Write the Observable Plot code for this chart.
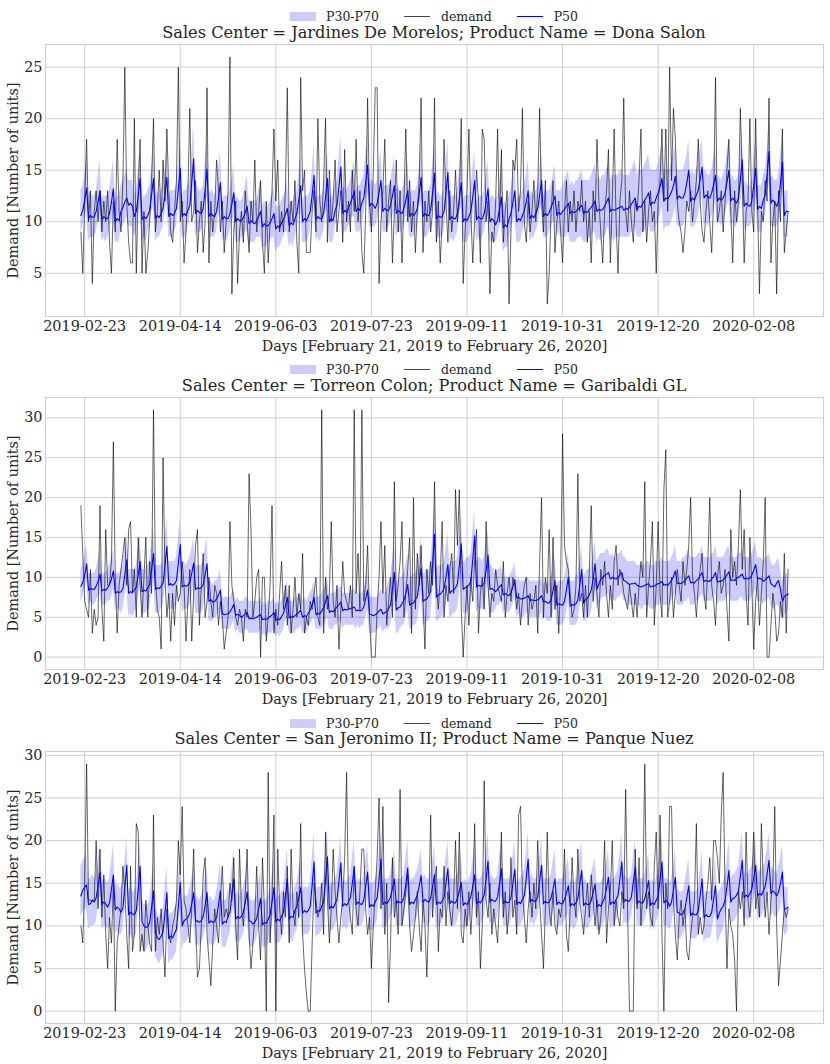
<!DOCTYPE html>
<html><head><meta charset="utf-8">
<script src="https://cdn.jsdelivr.net/npm/d3@7"></script>
<script src="https://cdn.jsdelivr.net/npm/@observablehq/plot@0.6"></script>
<style>
body{margin:0;background:#fff;width:830px;font-family:"DejaVu Serif",serif;color:#262626}
.panel{position:relative;width:830px;height:353.333px}
.legend{position:absolute;left:45px;right:7px;top:9px;height:15px;display:flex;justify-content:center;align-items:center;font-size:12.5px;line-height:15px}
.item{display:flex;align-items:center}
.item+.item{margin-left:25px}
.swatch{width:26px;height:9px;background:rgba(0,0,255,0.2);margin-right:10px}
.ln{width:26px;height:1.2px;margin-right:11px}
.title{position:absolute;left:45px;right:7px;top:23.7px;text-align:center;font-size:16.2px;line-height:18px;white-space:nowrap}
.chart{position:absolute;left:0;top:40px}
</style></head><body><div id="root"></div>
<script>
const tickLabels = ["2019-02-23","2019-04-14","2019-06-03","2019-07-23","2019-09-11","2019-10-31","2019-12-20","2020-02-08"];
const yTicks1 = [5,10,15,20,25];
const yTicks2 = [0,5,10,15,20,25,30];
const yTicks3 = [0,5,10,15,20,25,30];
const titles = ["Sales Center = Jardines De Morelos; Product Name = Dona Salon","Sales Center = Torreon Colon; Product Name = Garibaldi GL","Sales Center = San Jeronimo II; Product Name = Panque Nuez"];

const demand1 = [
9,5,12,18,10,13,4,
11,13,10,13,9,12,10,
13,8,5,12,9,18,11,
9,14,25,12,8,6,6,
20,5,13,18,5,11,5,
7,10,14,20,9,11,15,
10,16,12,19,13,9,8,
11,14,25,10,12,6,9,
13,21,10,11,14,7,10,
12,7,10,23,6,12,9,
11,16,13,9,12,7,10,
13,26,3,9,12,4,9,
11,8,13,10,7,12,10,
16,9,11,14,8,5,12,
6,10,13,19,12,16,9,
11,9,13,23,9,12,10,
14,8,5,24,13,15,7,
7,7,11,13,9,20,12,
10,14,20,8,15,10,12,
16,9,11,13,8,17,10,
12,9,15,11,18,10,13,
7,5,11,22,12,9,15,
23,23,4,10,13,18,9,
12,14,6,11,16,9,13,
6,12,19,10,14,9,12,
7,11,14,22,7,12,10,
13,9,11,22,8,12,6,
10,18,12,8,13,9,11,
15,10,12,20,4,9,13,
19,11,6,10,15,12,6,
19,18,10,12,3,9,8,
12,19,10,17,8,11,13,
2,9,16,15,18,11,13,
21,10,8,12,9,11,14,
10,13,21,12,9,14,2,
5,11,14,7,10,12,9,
6,11,14,9,12,10,13,
9,12,11,14,10,12,8,
11,6,13,10,18,12,9,
6,11,13,17,6,12,19,
10,5,12,14,22,11,9,
13,10,8,12,11,14,19,
9,12,8,11,13,10,11,
5,12,14,19,12,19,11,
25,14,21,18,12,10,9,
7,9,12,11,13,10,12,
14,18,12,9,8,11,13,
10,7,12,24,10,11,13,
9,12,15,18,11,6,13,
10,12,21,14,6,11,12,
20,11,9,20,12,3,11,
10,14,12,22,6,10,12,
3,13,10,19,7,9,11];

const p50_1 = [
10.6,11.1,12.1,13.3,10.3,10.6,10.4,
10.5,11,11.9,13,10.2,10.5,10.3,
10.3,10.8,11.9,13.2,10,10.3,10.1,
11,11.4,11.9,12.3,11.6,11.8,11.5,
10.5,11,12.5,14.2,10.2,10.5,10.3,
10.6,11.1,12.6,14.2,10.3,10.6,10.4,
10.8,11.3,12.7,14.3,10.5,10.8,10.6,
10.8,11.3,13.2,15.2,10.5,10.8,10.6,
11.1,11.6,13.8,16.1,10.8,11.1,10.9,
10.8,11.3,13.1,15.1,10.5,10.8,10.6,
10.5,11,12.3,13.8,10.2,10.5,10.3,
10.3,10.8,11.7,12.8,10,10.3,10.1,
10.1,10.4,10.9,11.5,9.8,10.1,9.9,
9.8,10.1,10.5,11,9.5,9.8,9.6,
9.6,9.9,10.3,10.8,9.3,9.6,9.4,
9.9,10.2,10.7,11.3,9.6,9.9,9.7,
10.3,10.8,12.1,13.5,10,10.3,10.1,
10.5,11,12.6,14.5,10.2,10.5,10.3,
10.3,10.8,12.4,14.2,10,10.3,10.1,
11.1,11.6,13.4,15.3,10.8,11.1,10.9,
11.3,11.8,12.3,13,11,11.3,11.1,
11.8,12.3,13.8,15.5,11.5,11.8,11.6,
11.3,11.8,12.8,14,11,11.3,11.1,
11.1,11.6,12.5,13.5,10.8,11.1,10.9,
10.8,11.3,12.1,13,10.5,10.8,10.6,
10.8,11.3,12.7,14.3,10.5,10.8,10.6,
10.6,11.1,12.8,14.7,10.3,10.6,10.4,
10.5,11,12.8,14.8,10.2,10.5,10.3,
10.3,10.8,12.2,13.8,10,10.3,10.1,
10.5,11,12.4,14,10.2,10.5,10.3,
10.3,10.8,11.9,13.2,10,10.3,10.1,
9.7,10.2,11.2,12.4,9.4,9.7,9.5,
10.3,10.8,11.8,13,10,10.3,10.1,
10.6,11.1,11.9,13,10.3,10.6,10.4,
10.8,11.3,12.6,14,10.5,10.8,10.6,
10.9,11.4,11.9,12.5,10.6,10.9,10.7,
11,11.2,11.5,11.8,10.8,11,10.9,
11,11.2,11.4,11.6,10.8,11,10.9,
11.2,11.4,11.7,12,11,11.2,11.1,
11.2,11.5,11.9,12.3,11,11.2,11.1,
11.2,11.3,11.4,11.5,11.1,11.3,11.2,
11.4,11.7,12,12.3,11.2,11.5,11.4,
11.8,12.1,12.4,12.8,11.6,11.9,11.8,
12.3,12.8,13.4,14.2,12,12.3,12.2,
12.5,12.9,13.5,14.4,12.2,12.5,12.3,
12.3,12.8,13.8,15,12,12.3,12.1,
12.6,13.1,14.1,15.3,12.3,12.6,12.4,
12.3,12.8,13.6,14.5,12,12.3,12.1,
12.3,12.8,13.8,15,12,12.3,12.1,
11.8,12.3,14,16,11.5,11.8,11.6,
11.5,12,13.5,15.2,11.2,11.5,11.3,
12.1,12.6,14.6,16.8,11.8,12.1,11.9,
11.5,12,13.8,15.8,10.6,11,11];

const p70_1 = [
13,13.5,14.5,16.5,12.5,13,12.5,
12.5,13,14.5,16,12,12.5,12.5,
12.5,13,14.5,16,12,12.5,12.5,
13.5,14,14.5,15,14,14,14,
12.5,13,15,17,12,12.5,12.5,
13,13.5,15,17,12.5,13,12.5,
13,13.5,15,17.5,12.5,13,13,
13,13.5,15.5,18,12.5,13,13,
13.5,14,16.5,19.5,13,13.5,13,
13,13.5,15.5,18,12.5,13,13,
12.5,13,15,17,12,12.5,12.5,
12.5,13,14,15.5,12,12.5,12,
12,12.5,13.5,14.5,12,12,12,
12,12,13,14,11.5,12,11.5,
11.5,12,12.5,13.5,11.5,11.5,11.5,
12,12.5,13,14,11.5,12,12,
12.5,13,14.5,16.5,12,12.5,12.5,
12.5,13,15,17.5,12,12.5,12.5,
12.5,13,15,17,12,12.5,12.5,
13.5,14,16,18.5,13,13.5,13,
13.5,14,15,16,13,13.5,13.5,
14,14.5,16.5,18.5,13.5,14,14,
13.5,14,15.5,17,13,13.5,13.5,
13.5,14,15,16.5,13,13.5,13,
13,13.5,14.5,16,12.5,13,13,
13,13.5,15,17.5,12.5,13,13,
13,13.5,15.5,17.5,12.5,13,12.5,
12.5,13,15.5,18,12,12.5,12.5,
12.5,13,15,17,12,12.5,12.5,
12.5,13,15,17,12,12.5,12.5,
12.5,13,14.5,16,12,12.5,12.5,
12,12.5,13.5,15.5,11.5,12,11.5,
12.5,13,14.5,16,12,12.5,12.5,
13,13.5,14.5,16,12.5,13,12.5,
13,13.5,15,17,12.5,13,13,
13,13.5,14.5,15.5,13,13,13,
13.5,14,14.5,15,13.5,14,13.5,
14,14,14.5,15,14,14,14,
14,14.5,15,15.5,14,14.5,14,
14.5,14.5,15,15.5,14,14.5,14.5,
14.5,14.5,15,15,14.5,14.5,14.5,
14.5,15,15.5,16,14.5,15,15,
15,15.5,16,16.5,15,15,15,
15,15.5,16.5,17.5,15,15,15,
15,15.5,16.5,17.5,15,15,15,
15,15.5,16.5,18,14.5,15,14.5,
15,15.5,17,18,14.5,15,14.5,
14.5,15,16,17.5,14,14.5,14,
14.5,15,16.5,18,14,14.5,14,
14,14.5,16.5,19,13.5,14,13.5,
13.5,14,16,18,13.5,13.5,13.5,
14.5,15,17,19.5,14,14.5,14,
14,14.5,16.5,18.5,13,13,13];

const p30_1 = [
9,9.5,10.5,11,8,8.5,8.5,
8.5,9,10,10.5,8,8.5,8,
8.5,9,10,10.5,8,8,8,
9.5,9.5,10,10.5,9.5,9.5,9.5,
8.5,9,10.5,11.5,8,8.5,8,
9,9.5,11,11.5,8,8.5,8.5,
9,9.5,11,12,8.5,8.5,8.5,
9,9.5,11.5,12.5,8.5,8.5,8.5,
9.5,10,12,13.5,8.5,9,9,
9,9.5,11.5,12.5,8.5,8.5,8.5,
8.5,9,10.5,11.5,8,8.5,8,
8.5,9,10,10.5,8,8,8,
8.5,8.5,9,9,7.5,8,8,
8,8.5,8.5,8.5,7.5,7.5,7.5,
8,8,8.5,8.5,7,7.5,7.5,
8,8.5,9,9,7.5,8,7.5,
8.5,9,10.5,11,8,8,8,
8.5,9,11,12,8,8.5,8,
8.5,9,10.5,11.5,8,8,8,
9.5,10,11.5,13,8.5,9,9,
9.5,10,10.5,10.5,9,9,9,
10,10.5,12,13,9.5,9.5,9.5,
9.5,10,11,11.5,9,9,9,
9.5,10,10.5,11,8.5,9,9,
9,9.5,10.5,10.5,8.5,8.5,8.5,
9,9.5,11,12,8.5,8.5,8.5,
9,9.5,11,12,8,8.5,8.5,
8.5,9,11,12.5,8,8.5,8,
8.5,9,10.5,11.5,8,8,8,
8.5,9,10.5,11.5,8,8.5,8,
8.5,9,10,10.5,8,8,8,
8,8.5,9.5,10,7,7.5,7.5,
8.5,9,10,10.5,8,8,8,
9,9.5,10,10.5,8,8.5,8.5,
9,9.5,11,11.5,8.5,8.5,8.5,
9,9.5,10,10,8.5,9,8.5,
8.5,8.5,8.5,9,8,8,8,
8,8.5,8.5,8.5,8,8,8,
8.5,8.5,9,9,8,8.5,8,
8.5,8.5,9,9.5,8,8.5,8,
8.5,8.5,8.5,8.5,8.5,8.5,8.5,
8.5,9,9,9.5,8.5,8.5,8.5,
9,9,9.5,10,9,9,9,
9.5,10,10.5,11.5,9,9.5,9.5,
9.5,10,10.5,11.5,9.5,9.5,9.5,
9.5,10,11,12,9.5,9.5,9.5,
10,10.5,11.5,12.5,9.5,10,9.5,
10,10.5,11,12,9.5,10,9.5,
10,10.5,11.5,12,9.5,10,9.5,
9.5,10,11.5,13,9,9.5,9.5,
9.5,10,11,12.5,9,9,9,
10,10.5,12,14,9.5,9.5,9.5,
9.5,10,11,13,8.5,8.5,8.5];

const demand2 = [
19,13,7,6,5,11,3,
6,4,5,19,6,2,16,
9,9,12,27,10,3,9,
11,13,15,9,16,17,8,
11,5,15,9,5,10,15,
5,12,8,31,10,6,5,
1,25,10,5,8,2,8,
4,9,7,8,12,9,2,
7,11,2,8,14,16,4,
9,13,5,7,10,7,5,
9,8,4,7,5,1,3,
5,17,9,7,5,4,6,
5,2,6,5,23,16,5,
7,10,11,0,10,10,2,
5,9,19,3,6,4,8,
12,6,9,4,9,3,6,
10,5,8,6,13,3,5,
4,7,6,8,10,5,4,
31,3,10,6,8,17,7,
5,9,1,6,12,8,7,
6,9,5,31,8,13,6,
31,7,9,14,5,0,0,
0,6,10,17,8,14,4,
7,10,5,22,7,9,12,
17,5,8,11,15,3,20,
6,13,9,14,7,1,11,
8,12,9,22,9,6,10,
17,5,9,7,11,13,8,
21,14,21,6,0,5,9,
4,10,7,12,16,3,8,
10,6,17,9,5,8,7,
11,9,8,7,12,5,8,
10,7,10,9,6,8,4,
7,9,10,4,8,6,7,
9,3,12,20,5,10,8,
16,5,15,6,9,3,10,
28,14,12,11,8,5,6,
9,23,7,8,5,9,5,
11,19,7,10,8,5,11,
9,12,8,5,9,6,12,
14,9,11,10,8,7,6,
9,7,5,8,5,9,12,
10,22,5,9,12,17,4,
9,17,8,5,21,26,5,
7,10,5,8,11,9,7,
12,9,11,14,20,10,8,
5,9,11,13,8,6,12,
20,9,7,4,10,12,8,
9,11,6,2,16,10,12,
9,14,21,11,16,8,4,
15,9,1,7,10,4,8,
12,20,0,0,4,8,6,
2,3,7,5,13,3,11];

const p50_2 = [
8.9,9.4,10.2,11.7,8.4,8.6,8.5,
8.5,8.9,9.5,10.4,8.3,8.5,8.4,
8.7,9.1,9.8,10.8,8,8.2,8.1,
8.2,8.6,10.3,12.2,8,8.2,8.1,
8.4,8.8,10.3,12,8.2,8.4,8.3,
8.7,9.1,10.9,13,8.5,8.7,8.6,
8.9,9.3,11.5,13.9,9,9.2,9,
9.2,9.6,11.8,14.1,8.8,9,8.9,
9,9.4,10.5,11.8,8.5,8.7,8.6,
8.7,9.1,10.3,11.7,7,7.2,6.9,
7,7.3,7.8,8.4,5.5,5.3,5.4,
5.4,5.7,6.1,6.6,5.2,5.4,5.2,
5,5.2,5.4,5.6,4.8,4.9,4.8,
4.9,5,5.2,5.3,4.7,4.8,4.7,
4.9,5.1,5.3,5.6,4.6,4.8,4.7,
5.1,5.5,6.4,7.5,4.9,5.1,5,
5.2,5.4,5.6,5.9,5,5.2,5.1,
5.5,5.9,6.6,7.5,5.3,5.5,5.4,
5.8,6.2,6.9,7.7,5.6,5.8,5.7,
6,6.3,6.6,6.9,5.8,6,5.9,
6,6.1,6.2,6.3,5.8,5.9,5.8,
5.9,6.3,7.3,8.4,5.4,5.3,5.2,
5.3,5.5,5.8,6,5.4,5.6,5.7,
6.1,6.6,8.5,10.6,5.9,6.2,6.3,
6.7,7.1,8,9.1,6.5,6.7,6.8,
7.2,7.6,9.3,11.2,7,7.2,7.3,
7.7,8.3,11.6,15.4,7.5,7.8,7.9,
8.2,8.6,10,11.6,8,8.3,8.4,
8.7,9.2,11.5,14.2,8.5,8.7,8.8,
9,9.5,12.2,15.2,8.8,9,8.9,
8.9,9.3,10.9,12.8,8.5,8.6,8.4,
8.2,8.5,8.8,9.1,7.8,8,7.8,
7.7,8.1,8.8,9.7,7.4,7.5,7.3,
7.3,7.4,7.5,7.7,7.1,7.2,7.1,
7.1,7.2,7.4,7.7,6.9,7,6.8,
6.8,7.2,8.3,9.6,6.5,6.7,6.6,
6.5,7,8.4,10,6.4,6.6,6.5,
6.7,7.2,9,11,6.8,7.2,7.4,
7.8,8.4,9.8,11.7,8.5,9.2,9.8,
10,10.2,10.4,10.6,9.8,10,9.9,
9.8,10,10.3,10.6,9.6,9.5,9.3,
9.1,9.2,9.2,9.3,9,8.9,8.8,
8.9,9,9.1,9.2,8.8,8.9,8.9,
9.1,9.2,9.3,9.5,9,9.1,9,
9.3,9.6,10.1,10.8,9.2,9.3,9.2,
9.4,9.6,9.9,10.2,9.3,9.4,9.3,
9.6,9.8,10.2,10.6,9.5,9.6,9.5,
9.5,9.8,10.1,10.6,9.4,9.5,9.5,
9.7,9.9,10.3,10.7,9.6,9.7,9.6,
9.9,10,10.2,10.4,9.8,9.9,9.8,
9.9,10.3,10.9,11.6,9.8,9.9,9.8,
9.5,9.7,9.9,10.2,9.2,9,8.8,
9.3,9.6,8.5,7,7.6,7.8,7.9];

const p70_2 = [
11,11.5,12.5,14.5,10.5,10.5,10.5,
10.5,11,12,13.5,10.5,10.5,10.5,
11,11.5,12.5,13.5,10.5,10.5,10.5,
11,11.5,13.5,15.5,11,11,11,
11,11.5,13.5,15.5,11,11,11,
11.5,12,14,16.5,11.5,11.5,11.5,
11.5,12,14.5,17.5,12,12,12,
12,12.5,15,17.5,11.5,12,11.5,
12,12.5,13.5,15,11.5,11.5,11.5,
11.5,12,13.5,15,9.5,9.5,9,
9.5,9.5,10,11,7.5,7.5,7.5,
7.5,7.5,8,8.5,7,7.5,7,
7,7,7.5,7.5,7,7,7,
7,7,7,7.5,6.5,7,6.5,
7,7,7,7.5,6.5,7,6.5,
7,7.5,8.5,9.5,7,7,7,
7.5,7.5,7.5,8,7,7.5,7,
7.5,8,8.5,9.5,7.5,7.5,7.5,
8,8.5,9,10,7.5,8,8,
8,8.5,8.5,9,8,8,8,
8,8,8.5,8.5,8,8,8,
8,8.5,9.5,11,7.5,7.5,7.5,
7.5,7.5,8,8.5,8,8,8.5,
9.5,10,12,14.5,9.5,9.5,10,
10,10.5,11.5,13,10,10,10.5,
10.5,11,13,15,10.5,10.5,11,
11,12,15,19,11,11.5,11.5,
11.5,12,13.5,15.5,11.5,12,12,
12,12.5,15,18,12,12,12.5,
12.5,13,15.5,18.5,12,12.5,12.5,
12,12.5,14,16,11.5,11.5,11,
10.5,11,11,11.5,10,10,10,
10,10.5,11,12,9.5,10,9.5,
9.5,9.5,10,10,9.5,9.5,9.5,
9.5,9.5,9.5,10,9,9.5,9,
9.5,10,11,12.5,9,9.5,9.5,
9.5,10,11.5,13,9.5,9.5,9.5,
10,10.5,12,14,10,10.5,11,
11,11.5,13,14.5,12,12.5,13,
13,13,13.5,13.5,12.5,13,12.5,
12.5,13,13,13.5,12.5,12.5,12,
12,12,12,12,11.5,11.5,11.5,
11.5,11.5,12,12,11.5,11.5,11.5,
12,12,12,12.5,12,12,12,
12,12.5,13,14,12,12,12,
12.5,12.5,13,13.5,12.5,12.5,12.5,
12.5,13,13,14,12.5,12.5,12.5,
12.5,13,13,14,12.5,12.5,12.5,
12.5,13,13.5,14,12.5,12.5,12.5,
12.5,13,13,13.5,12.5,12.5,12.5,
12.5,13,13.5,14.5,12.5,12.5,12.5,
12,12.5,12.5,13,12,11.5,11.5,
12,12.5,11,9.5,10,10.5,10.5];

const p30_2 = [
7,7.5,8.5,9.5,6.5,7,6.5,
6.5,7,7.5,8,6.5,6.5,6.5,
7,7,7.5,8.5,6,6,6,
5.5,6,7.5,9,5,5.5,5,
5.5,6,7.5,9,5,5.5,5.5,
6,6,8,10,5.5,5.5,5.5,
6,6.5,8.5,10.5,6,6,6,
6,6.5,8.5,11,5.5,6,6,
6,6.5,7.5,9,5.5,5.5,5.5,
5.5,6,7.5,9,4.5,4.5,4.5,
5,5,5.5,6,3.5,3.5,3.5,
3.5,3.5,4,4.5,3,3.5,3,
3,3,3.5,3.5,3,3,3,
3,3,3,3.5,2.5,3,2.5,
3,3,3,3.5,2.5,3,2.5,
3,3.5,4.5,5,3,3,3,
3,3.5,3.5,4,3,3,3,
3.5,4,4.5,5,3.5,3.5,3.5,
3.5,4,4.5,5,3.5,3.5,3.5,
4,4,4.5,4.5,3.5,4,4,
4,4,4,4,3.5,4,3.5,
4,4,5,6,3,3,3,
3,3.5,3.5,4,3,3.5,3.5,
3.5,4,5.5,7.5,3,3,3.5,
4,4,5,6,3.5,3.5,4,
4,4.5,6,8,4,4,4.5,
4.5,5,8,11,4.5,4.5,5,
5,5.5,6.5,8.5,5,5,5.5,
5.5,6,8,10.5,5.5,5.5,5.5,
6,6.5,8.5,11.5,5.5,6,6,
6,6,7.5,9.5,5.5,5.5,5.5,
6,6.5,6.5,7,5.5,6,5.5,
5.5,6,6.5,7.5,5,5.5,5,
5,5,5.5,5.5,5,5,5,
5,5,5,5.5,4.5,5,4.5,
4.5,4.5,5.5,7,4,4,4,
4,4.5,5.5,7,4,4,4,
4,4.5,6,8,4.5,4.5,5,
5,5.5,7,8.5,6,6.5,7,
7.5,7.5,7.5,8,7,7.5,7,
7,7.5,7.5,8,7,7,6.5,
6.5,6.5,6.5,6.5,6.5,6.5,6,
6,6.5,6.5,6.5,6,6,6,
6.5,6.5,6.5,7,6.5,6.5,6.5,
6.5,7,7.5,8,6.5,6.5,6.5,
6.5,7,7,7.5,6.5,6.5,6.5,
7,7,7.5,8,7,7,7,
7,7,7.5,8,6.5,7,7,
7,7,7.5,8,7,7,7,
7,7,7.5,7.5,7,7,7,
7,7.5,8,8.5,7,7,7,
6.5,7,7,7.5,6.5,6,6,
6.5,6.5,5.5,4.5,5,5.5,6];

const demand3 = [
10,8,15,29,13,13,13,
13,20,12,19,11,16,9,
5,11,8,15,0,8,10,
12,17,14,9,5,17,7,
9,22,21,7,9,7,13,
10,8,7,23,7,11,9,
12,8,4,12,9,8,10,
11,13,20,16,24,13,12,
10,8,12,19,11,4,5,
10,16,18,9,6,3,8,
12,10,8,13,17,11,12,
11,15,13,18,10,6,19,
12,10,14,19,9,5,8,
11,17,10,6,18,12,0,
28,8,13,23,0,19,12,
9,14,11,17,8,19,12,
10,14,11,22,9,5,2,
0,0,8,15,13,11,12,
15,9,21,13,8,12,19,
14,11,8,11,13,18,28,
13,11,9,17,12,10,14,
19,19,12,9,11,5,10,
14,18,25,12,24,9,15,
1,8,18,11,13,9,26,
10,12,14,16,10,7,9,
11,14,10,7,13,10,4,
12,23,11,15,17,7,12,
11,17,10,14,12,10,13,
20,12,21,9,8,12,10,
14,9,13,22,11,14,5,
10,27,13,11,15,9,12,
10,8,13,21,11,14,9,
12,18,11,13,9,23,24,
14,11,8,12,14,11,15,
12,20,13,9,5,12,21,
12,10,14,10,9,12,11,
13,19,9,7,12,18,13,
11,19,13,11,9,12,15,
11,16,13,10,13,9,11,
14,20,8,12,14,20,10,
13,11,10,14,12,26,12,
0,0,0,19,12,18,10,
14,29,12,14,11,10,17,
21,12,23,9,0,15,12,
24,24,13,9,6,11,13,
10,12,7,6,9,11,13,
22,9,11,9,10,13,15,
18,13,20,20,18,15,23,
28,14,5,12,10,9,6,
0,14,12,14,10,21,13,
11,15,21,12,14,11,22,
15,11,14,9,13,15,24,
10,3,6,9,12,11,12];

const p50_3 = [
13.5,14.2,14.5,14.8,12.5,12.6,13,
12.8,13.3,14.7,16.3,12.5,12.8,12.6,
12.2,12.7,14.3,16,11.9,12.2,12,
11.6,12.1,14.5,17.1,11.3,11.6,11.4,
11.3,11.8,14.3,17,10.5,10,9.8,
9.9,10.4,12.2,14.1,9.2,8.6,8.4,
8.8,9.3,11.5,13.9,8.5,8.8,8.6,
9.1,9.6,12.3,15.1,10,10.6,10.8,
11,11.5,12.6,13.9,10.5,10.6,10.4,
10.6,11.1,12.4,13.9,10.3,10.6,10.4,
10.5,11,12.5,14.1,10.2,10.5,10.4,
11.1,11.6,13.5,15.5,10.8,11.1,10.9,
11.1,11.6,12.7,14,10.6,10.5,10.2,
10.4,10.9,12,13.2,10.1,10.4,10.3,
10.8,11.3,12.8,14.5,10.5,10.8,10.6,
11.1,11.6,13.5,15.5,10.8,11.1,11,
11.8,12.3,13.3,14.5,11.5,11.8,11.6,
11.8,12.3,14.8,17.5,11.5,11.8,11.7,
12.3,12.8,15.4,18.1,12,12.3,12.1,
12.6,13.1,15.2,17.4,12.3,12.6,12.4,
12.8,13.3,15,16.9,12.5,12.8,12.6,
12.5,13,14.6,16.3,12.2,12.5,12.3,
12.8,13.3,15.5,17.8,12.5,12.8,12.6,
12.9,13.4,14.4,15.5,12.6,12.9,12.7,
12.8,13.3,14.9,16.8,12.5,12.8,12.6,
13.1,13.6,14.7,15.9,12.8,13.1,12.9,
12.8,13.3,14.6,16,12.5,12.8,12.6,
12.9,13.4,15,16.7,12.6,12.9,12.7,
12.7,13.2,14.1,15.1,12.4,12.7,12.5,
12.9,13.4,14.6,16,12.6,12.9,12.7,
13.1,13.6,15.5,17.6,12.8,13.1,12.9,
12.9,13.4,15,16.7,12.6,12.9,12.7,
12.8,13.3,14.9,16.6,12.5,12.8,12.6,
13.1,13.6,15.6,17.8,12.8,13.1,12.9,
12.9,13.4,15.2,17.1,12.6,12.9,12.7,
12.8,13.3,14.3,15.5,12.5,12.8,12.6,
12.6,13.1,13.8,14.7,12.3,12.6,12.4,
12.7,13.2,14.8,16.5,12.4,12.7,12.5,
12.5,13,13.9,14.9,12.2,12.5,12.3,
12.8,13.3,14.4,15.7,12.5,12.8,12.6,
13.1,13.6,15.5,17.5,12.8,13.1,12.9,
12.9,13.4,15.1,16.9,12.6,12.9,12.7,
12.7,13.2,14.2,15.3,12.4,12.7,12.5,
13,13.5,15.4,17.5,12.7,13,12.8,
12.3,12.8,14.2,15.7,11.6,11.5,11.3,
11.5,12,13.3,14.7,11.2,11.5,11.3,
11.3,11.8,13.6,15.5,11,11.3,11.1,
11.1,11.6,13.1,14.7,10.8,11.5,12,
12.3,13,14.6,16.5,12.8,13.2,13.3,
13.6,14.1,15.8,17.7,13.3,13.6,13.4,
13.8,14.3,15.6,17.1,13.5,13.8,13.6,
14.1,14.6,16.1,17.7,13.8,14.1,13.9,
13.5,14,15,16.3,12,12,12.2];

const p70_3 = [
17,17.5,18,18.5,15.5,15.5,16,
15.5,16,17.5,19.5,15,15.5,15.5,
15,15.5,17.5,19.5,14.5,15,14.5,
14.5,15,17.5,20.5,14,14.5,14,
14,14.5,17.5,20.5,13,12.5,12.5,
12.5,13,15,17.5,12,11.5,11,
11.5,12,14.5,17,11,11.5,11.5,
12,12.5,15.5,18.5,12.5,13.5,13.5,
13.5,14.5,15.5,17,13,13.5,13,
13.5,14,15.5,17,13,13.5,13,
13,14,15.5,17.5,13,13,13,
14,14.5,16.5,19,13.5,14,13.5,
14,14.5,15.5,17.5,13.5,13,13,
13,13.5,15,16.5,13,13,13,
13.5,14,16,18,13,13.5,13.5,
14,14.5,16.5,19,13.5,14,13.5,
14.5,15,16.5,18,14,14.5,14.5,
14.5,15,18,21,14,14.5,14.5,
15,15.5,18.5,21.5,14.5,15,15,
15.5,16,18,20.5,15,15.5,15,
15.5,16,18,20,15,15.5,15.5,
15,16,17.5,19.5,15,15,15,
15.5,16,18.5,21,15,15.5,15.5,
15.5,16,17.5,19,15.5,15.5,15.5,
15.5,16,18,20,15,15.5,15.5,
16,16.5,17.5,19,15.5,16,15.5,
15.5,16,17.5,19.5,15,15.5,15.5,
15.5,16,18,20,15.5,15.5,15.5,
15.5,16,17,18.5,15,15.5,15,
15.5,16,17.5,19.5,15.5,15.5,15.5,
16,16.5,18.5,21,15.5,16,15.5,
15.5,16,18,20,15.5,15.5,15.5,
15.5,16,18,20,15,15.5,15.5,
16,16.5,18.5,21,15.5,16,15.5,
15.5,16,18,20.5,15.5,15.5,15.5,
15.5,16,17.5,19,15,15.5,15.5,
15.5,16,17,18,15,15.5,15,
15.5,16,18,20,15,15.5,15,
15,16,17,18,15,15,15,
15.5,16,17.5,19,15,15.5,15.5,
16,16.5,18.5,21,15.5,16,15.5,
15.5,16,18,20,15.5,15.5,15.5,
15.5,16,17,18.5,15,15.5,15,
15.5,16.5,18.5,21,15.5,15.5,15.5,
15,15.5,17,19,14.5,14,14,
14,15,16.5,18,14,14,14,
14,14.5,16.5,19,13.5,14,14,
14,14.5,16,18,13.5,14,14.5,
15,16,17.5,20,15.5,16,16,
16.5,17,19,21,16,16.5,16,
16.5,17,18.5,20.5,16,16.5,16.5,
17,17.5,19,21,16.5,17,16.5,
16,17,18,19.5,14.5,14.5,14.5];

const p30_3 = [
11,11.5,12,12,9.5,10,10,
10,10.5,12,13.5,9.5,10,10,
9.5,10,11.5,13,9,9.5,9,
9,9.5,12,14,8.5,9,8.5,
8.5,9,11.5,14,7.5,7,7,
7.5,8,9.5,11,6.5,6,5.5,
6,6.5,9,11,5.5,6,6,
6.5,7,9.5,12,7,8,8,
8.5,9,10,11,7.5,8,7.5,
8,8.5,9.5,11,7.5,8,7.5,
8,8.5,10,11,7.5,7.5,7.5,
8.5,9,11,12.5,8,8.5,8,
8.5,9,10,11,8,7.5,7.5,
8,8.5,9.5,10,7.5,7.5,7.5,
8,8.5,10,11.5,7.5,8,8,
8.5,9,11,12.5,8,8.5,8,
9,9.5,10.5,11.5,8.5,9,9,
9,9.5,12,14.5,8.5,9,9,
9.5,10,12.5,15,9,9.5,9.5,
10,10.5,12.5,14.5,9.5,10,9.5,
10,10.5,12.5,14,9.5,10,10,
10,10.5,12,13.5,9.5,9.5,9.5,
10,10.5,13,15,9.5,10,10,
10.5,11,11.5,12.5,10,10,10,
10,10.5,12,14,9.5,10,10,
10.5,11,12,13,10,10.5,10,
10,10.5,12,13,9.5,10,10,
10.5,11,12.5,13.5,10,10,10,
10,10.5,11.5,12,9.5,10,9.5,
10.5,11,12,13,10,10,10,
10.5,11,13,14.5,10,10.5,10,
10.5,11,12.5,13.5,10,10,10,
10,10.5,12,13.5,9.5,10,10,
10.5,11,13,15,10,10.5,10,
10.5,11,12.5,14,10,10,10,
10,10.5,11.5,12.5,9.5,10,10,
10,10.5,11,11.5,9.5,10,9.5,
10,10.5,12,13.5,9.5,10,9.5,
10,10.5,11,12,9.5,9.5,9.5,
10,10.5,11.5,12.5,9.5,10,10,
10.5,11,13,14.5,10,10.5,10,
10.5,11,12.5,14,10,10,10,
10,10.5,11.5,12.5,9.5,10,9.5,
10.5,11,12.5,14.5,10,10,10,
9.5,10,11.5,12.5,8.5,8.5,8.5,
9,9.5,10.5,11.5,8.5,8.5,8.5,
8.5,9,11,12.5,8,8.5,8.5,
8.5,9,10.5,11.5,8,8.5,9,
9.5,10.5,12,13.5,10,10.5,10.5,
11,11.5,13,14.5,10.5,11,10.5,
11,11.5,13,14,10.5,11,11,
11.5,12,13.5,14.5,11,11.5,11,
11,11.5,12,13.5,9,9,9.5];

const panels = [
  {title: titles[0], demand: demand1, p50: p50_1, p30: p30_1, p70: p70_1, yDomain: [0.8, 27.2], yTicks: yTicks1},
  {title: titles[1], demand: demand2, p50: p50_2, p30: p30_2, p70: p70_2, yDomain: [-1.55, 32.55], yTicks: yTicks2},
  {title: titles[2], demand: demand3, p50: p50_3, p30: p30_3, p70: p70_3, yDomain: [-1.45, 30.45], yTicks: yTicks3}
];

const days = d3.utcDay.range(new Date(Date.UTC(2019,1,21)), new Date(Date.UTC(2020,1,27)));
const xDomain = [new Date(Date.UTC(2019,1,2,12)), new Date(Date.UTC(2020,2,15,12))];
const tickDates = tickLabels.map(s => new Date(s + "T00:00:00Z"));
const grid = "#cfcfcf";

const root = document.getElementById("root");
for (const p of panels) {
  const rows = days.map((d, i) => ({date: d, demand: p.demand[i], p50: p.p50[i], p30: p.p30[i], p70: p.p70[i]}));
  const div = document.createElement("div");
  div.className = "panel";
  div.innerHTML = `<div class="legend"><span class="item"><span class="swatch"></span>P30-P70</span><span class="item"><span class="ln" style="background:#444"></span>demand</span><span class="item"><span class="ln" style="background:#0000ff"></span>P50</span></div><div class="title"></div>`;
  div.querySelector(".title").textContent = p.title;
  const chart = Plot.plot({
    width: 830, height: 313, marginTop: 4, marginRight: 7, marginBottom: 37, marginLeft: 45,
    style: {fontFamily: '"DejaVu Serif", serif', fontSize: "14.4px", background: "transparent", color: "#262626", overflow: "visible"},
    x: {type: "utc", domain: xDomain, labelArrow: "none"},
    y: {domain: p.yDomain, labelArrow: "none"},
    marks: [
      Plot.gridX(tickDates, {stroke: grid, strokeOpacity: 1, strokeWidth: 1}),
      Plot.gridY(p.yTicks, {stroke: grid, strokeOpacity: 1, strokeWidth: 1}),
      Plot.frame({stroke: grid, strokeWidth: 1.2}),
      Plot.areaY(rows, {x: "date", y1: "p30", y2: "p70", fill: "#0000ff", fillOpacity: 0.2}),
      Plot.lineY(rows, {x: "date", y: "demand", stroke: "#000", strokeWidth: 0.8, strokeOpacity: 0.75}),
      Plot.lineY(rows, {x: "date", y: "p50", stroke: "#0000ff", strokeWidth: 1.1}),
      Plot.axisX(tickDates, {tickFormat: d3.utcFormat("%Y-%m-%d"), tickSize: 0, tickPadding: 4, label: "Days [February 21, 2019 to February 26, 2020]", labelAnchor: "center", labelOffset: 34, labelArrow: "none"}),
      Plot.axisY(p.yTicks, {tickSize: 0, tickPadding: 3, label: "Demand [Number of units]", labelAnchor: "center", labelOffset: 38, labelArrow: "none"})
    ]
  });
  chart.classList.add("chart");
  div.appendChild(chart);
  root.appendChild(div);
}
</script></body></html>
